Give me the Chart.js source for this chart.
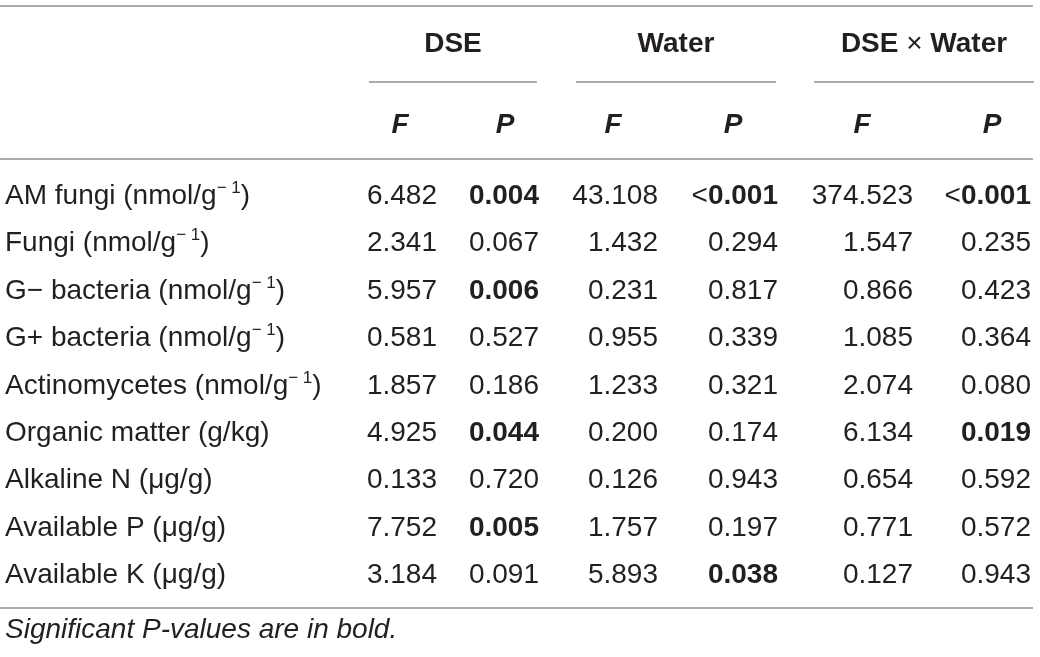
<!DOCTYPE html>
<html lang="en">
<head>
<meta charset="UTF-8">
<title>Two-way ANOVA: DSE and Water</title>
<script src="https://cdn.jsdelivr.net/npm/chart.js"></script>
<style>
  html, body { margin: 0; padding: 0; background: #fff; }
  #wrap { width: 1040px; height: 657px; }
</style>
</head>
<body>
<div id="wrap"><canvas id="tbl" width="1040" height="657"></canvas></div>
<script>
// ---- table data ----
const rowLabels = [
  "AM fungi (nmol/g^− 1^)", "Fungi (nmol/g^− 1^)", "G− bacteria (nmol/g^− 1^)",
  "G+ bacteria (nmol/g^− 1^)", "Actinomycetes (nmol/g^− 1^)", "Organic matter (g/kg)",
  "Alkaline N (μg/g)", "Available P (μg/g)", "Available K (μg/g)"
];
const groupLabels = ["DSE", "Water", "DSE × Water"];
const statLabels = ["F", "P"];
const dseF   = [6.482, 2.341, 5.957, 0.581, 1.857, 4.925, 0.133, 7.752, 3.184];
const dseP   = ["0.004", "0.067", "0.006", "0.527", "0.186", "0.044", "0.720", "0.005", "0.091"];
const waterF = [43.108, 1.432, 0.231, 0.955, 1.233, 0.200, 0.126, 1.757, 5.893];
const waterP = ["<0.001", "0.294", "0.817", "0.339", "0.321", "0.174", "0.943", "0.197", "0.038"];
const bothF  = [374.523, 1.547, 0.866, 1.085, 2.074, 6.134, 0.654, 0.771, 0.127];
const bothP  = ["<0.001", "0.235", "0.423", "0.364", "0.080", "0.019", "0.592", "0.572", "0.943"];
const footnote = "Significant P-values are in bold.";

// ---- layout (px in scale units) ----
const FONT = '"Liberation Sans", Arial, sans-serif';
const SIZE = 28;
const INK = '#231f20';
const RULE = '#8f8f8f';
const colRight  = [437, 539, 658, 778, 913, 1031];
const colCenter = [400, 505, 613, 733, 862, 992];
const groupSpan = [[369, 537], [576, 776], [814, 1034]];
const firstBase = 204, rowStep = 47.4;
const groupBase = 52, statBase = 133, noteBase = 638;
const rules = [[0, 1033, 6], [0, 1033, 159], [0, 1033, 608]];

const columns = [dseF, dseP, waterF, waterP, bothF, bothP];
const isP = c => c % 2 === 1;
const cellText = (c, v) => isP(c) ? v : v.toFixed(3);

const datasets = columns.map((col, c) => ({
  label: groupLabels[Math.floor(c / 2)] + ' ' + statLabels[c % 2],
  data: col.map((v, i) => ({ x: colRight[c], y: firstBase + i * rowStep, v: cellText(c, v) })),
  pointRadius: 0,
  showLine: false
}));

function font(style, size) { return style + ' ' + size + 'px ' + FONT; }

// draw a list of runs {t, f, dy} starting at x (or ending at x when right aligned)
function drawRuns(ctx, runs, x, y, align) {
  let w = 0;
  runs.forEach(r => { ctx.font = r.f; r.w = ctx.measureText(r.t).width; w += r.w; });
  let cx = align === 'right' ? x - w : align === 'center' ? x - w / 2 : x;
  ctx.textAlign = 'left';
  ctx.textBaseline = 'alphabetic';
  runs.forEach(r => { ctx.font = r.f; ctx.fillText(r.t, cx, y + (r.dy || 0)); cx += r.w; });
}

function labelRuns(s) {
  return s.split('^').map((t, k) => k % 2
    ? { t, f: font('normal', 17), dy: -11 }
    : { t, f: font('normal', SIZE) });
}

function pRuns(s) {
  const num = parseFloat(s.replace('<', ''));
  const bold = num < 0.05;
  const runs = [];
  if (s[0] === '<') { runs.push({ t: '<', f: font('normal', SIZE) }); s = s.slice(1); }
  runs.push({ t: s, f: font(bold ? 'bold' : 'normal', SIZE) });
  return runs;
}

function groupRuns(s) {
  return s.split(/( × )/).map(t => ({ t, f: font(t === ' × ' ? 'normal' : 'bold', SIZE) }));
}

const tablePlugin = {
  id: 'tableText',
  afterDatasetsDraw(chart) {
    const ctx = chart.ctx, xs = chart.scales.x, ys = chart.scales.y;
    ctx.save();
    ctx.fillStyle = INK;

    // rules
    ctx.strokeStyle = RULE;
    ctx.lineWidth = 1.5;
    const hline = (a, b, y) => {
      ctx.beginPath();
      ctx.moveTo(xs.getPixelForValue(a), ys.getPixelForValue(y));
      ctx.lineTo(xs.getPixelForValue(b), ys.getPixelForValue(y));
      ctx.stroke();
    };
    rules.forEach(r => hline(r[0], r[1], r[2]));
    groupSpan.forEach(g => hline(g[0], g[1], 82));

    // headers
    groupLabels.forEach((g, k) => {
      const mid = (groupSpan[k][0] + groupSpan[k][1]) / 2;
      drawRuns(ctx, groupRuns(g), xs.getPixelForValue(mid), ys.getPixelForValue(groupBase), 'center');
    });
    colCenter.forEach((cx, c) => {
      drawRuns(ctx, [{ t: statLabels[c % 2], f: font('italic bold', SIZE) }],
        xs.getPixelForValue(cx), ys.getPixelForValue(statBase), 'center');
    });

    // row labels
    rowLabels.forEach((lab, i) => {
      drawRuns(ctx, labelRuns(lab), xs.getPixelForValue(5), ys.getPixelForValue(firstBase + i * rowStep), 'left');
    });

    // cells, placed at each point's pixel position
    chart.data.datasets.forEach((ds, c) => {
      chart.getDatasetMeta(c).data.forEach((el, i) => {
        const v = ds.data[i].v;
        const runs = isP(c) ? pRuns(v) : [{ t: v, f: font('normal', SIZE) }];
        drawRuns(ctx, runs, el.x, el.y, 'right');
      });
    });

    // footnote
    drawRuns(ctx, [{ t: footnote, f: font('italic', SIZE) }], xs.getPixelForValue(5), ys.getPixelForValue(noteBase), 'left');
    ctx.restore();
  }
};

new Chart(document.getElementById('tbl'), {
  type: 'scatter',
  data: { datasets },
  options: {
    responsive: false,
    animation: false,
    layout: { padding: 0 },
    plugins: { legend: { display: false }, tooltip: { enabled: false } },
    scales: {
      x: { type: 'linear', min: 0, max: 1040, display: false },
      y: { type: 'linear', min: 0, max: 657, reverse: true, display: false }
    }
  },
  plugins: [tablePlugin]
});
</script>
</body>
</html>
